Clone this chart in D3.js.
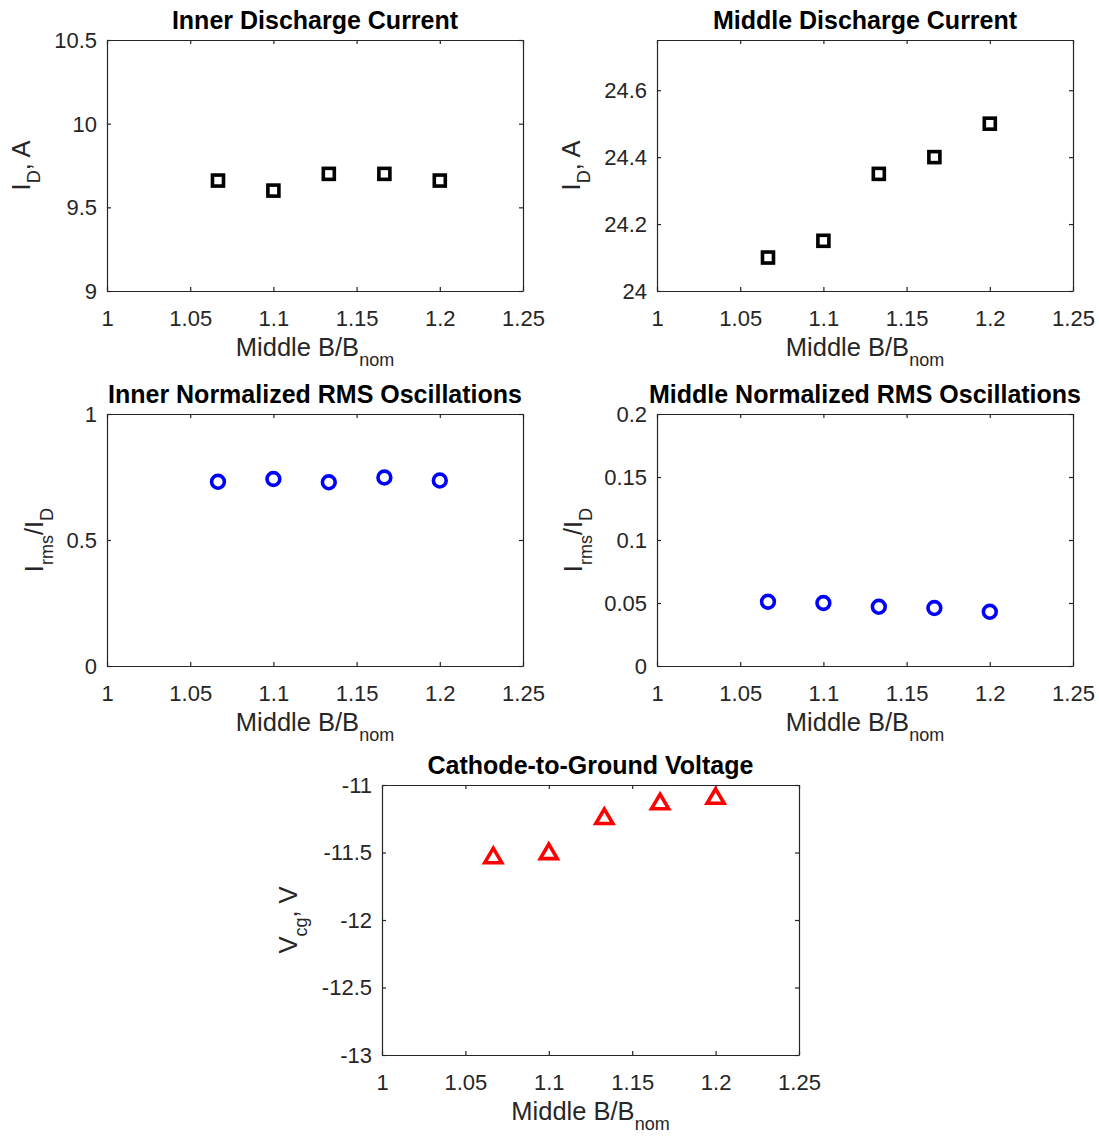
<!DOCTYPE html>
<html>
<head>
<meta charset="utf-8">
<script src="https://cdn.jsdelivr.net/npm/d3@7"></script>
<style>
  html, body { margin: 0; padding: 0; background: #fff; }
  svg { display: block; }
  text { font-family: "Liberation Sans", Arial, Helvetica, sans-serif; }
</style>
</head>
<body>
<script>
// ---------------- DATA ----------------
const bRatio     = [1.0667, 1.1, 1.1333, 1.1667, 1.2];
const innerID    = [9.66, 9.60, 9.70, 9.70, 9.66];
const middleID   = [24.10, 24.15, 24.35, 24.40, 24.50];
const innerRMS   = [0.731, 0.742, 0.729, 0.748, 0.736];
const middleRMS  = [0.051, 0.050, 0.047, 0.046, 0.043];
const vcg        = [-11.52, -11.49, -11.23, -11.12, -11.08];

const xTicks          = [1, 1.05, 1.1, 1.15, 1.2, 1.25];
const innerIDTicks    = [9, 9.5, 10, 10.5];
const middleIDTicks   = [24, 24.2, 24.4, 24.6];
const innerRMSTicks   = [0, 0.5, 1];
const middleRMSTicks  = [0, 0.05, 0.1, 0.15, 0.2];
const vcgTicks        = [-13, -12.5, -12, -11.5, -11];

const titles = [
  "Inner Discharge Current",
  "Middle Discharge Current",
  "Inner Normalized RMS Oscillations",
  "Middle Normalized RMS Oscillations",
  "Cathode-to-Ground Voltage"
];

// ---------------- LAYOUT ----------------
const W = 1099, H = 1136;
const AX = "#262626";
const svg = d3.select("body").append("svg").attr("width", W).attr("height", H);

const panels = [
  { box: [107, 523, 40, 291],  y: innerID,   yDom: [9, 10.5],    yTicks: innerIDTicks,   marker: "square",   color: "#000000", ylab: [["I",0],["D",1],[", A",0]],          ylx: 30, title: titles[0] },
  { box: [657, 1073, 40, 291], y: middleID,  yDom: [24, 24.75],  yTicks: middleIDTicks,  marker: "square",   color: "#000000", ylab: [["I",0],["D",1],[", A",0]],          ylx: 580, title: titles[1] },
  { box: [107, 523, 414, 666], y: innerRMS,  yDom: [0, 1],       yTicks: innerRMSTicks,  marker: "circle",   color: "#0000ff", ylab: [["I",0],["rms",1],["/I",0],["D",1]], ylx: 43, title: titles[2] },
  { box: [657, 1073, 414, 666],y: middleRMS, yDom: [0, 0.2],     yTicks: middleRMSTicks, marker: "circle",   color: "#0000ff", ylab: [["I",0],["rms",1],["/I",0],["D",1]], ylx: 582, title: titles[3] },
  { box: [382, 799, 785, 1055],y: vcg,       yDom: [-13, -11],   yTicks: vcgTicks,       marker: "triangle", color: "#ff0000", ylab: [["V",0],["cg",1],[", V",0]],         ylx: 297, title: titles[4] }
];

const TICK_FS = 22, LAB_FS = 25.5, SUB_FS = 18, TITLE_FS = 25, SUB_SHIFT = 10;

function addSubText(sel, parts) {
  let state = 0;
  parts.forEach(([s, sub]) => {
    const t = sel.append("tspan").text(s);
    const shift = (sub ? SUB_SHIFT : 0) - (state ? SUB_SHIFT : 0);
    if (shift !== 0) t.attr("dy", shift);
    t.attr("font-size", sub ? SUB_FS : LAB_FS);
    state = sub;
  });
}

panels.forEach(p => {
  const [x0, x1, y0, y1] = p.box;
  const x = d3.scaleLinear().domain([1, 1.25]).range([x0, x1]);
  const y = d3.scaleLinear().domain(p.yDom).range([y1, y0]);
  const g = svg.append("g");
  const fmt = v => String(v);

  // bottom axis
  const gb = g.append("g").attr("transform", `translate(0,${y1})`)
    .call(d3.axisBottom(x).tickValues(xTicks).tickFormat(fmt).tickSizeInner(-4).tickSizeOuter(0).tickPadding(0));
  gb.selectAll("text").attr("y", 35).attr("dy", null).attr("font-size", TICK_FS).attr("fill", AX);
  // top axis
  g.append("g").attr("transform", `translate(0,${y0})`)
    .call(d3.axisTop(x).tickValues(xTicks).tickFormat("").tickSizeInner(-4).tickSizeOuter(0));
  // left axis
  const gl = g.append("g").attr("transform", `translate(${x0},0)`)
    .call(d3.axisLeft(y).tickValues(p.yTicks).tickFormat(fmt).tickSizeInner(-4).tickSizeOuter(0).tickPadding(0));
  gl.selectAll("text").attr("x", -10).attr("dy", "0.34em").attr("font-size", TICK_FS).attr("fill", AX);
  // right axis
  g.append("g").attr("transform", `translate(${x1},0)`)
    .call(d3.axisRight(y).tickValues(p.yTicks).tickFormat("").tickSizeInner(-4).tickSizeOuter(0));

  g.selectAll(".domain").attr("stroke", AX).attr("stroke-width", 1.2);
  g.selectAll(".tick line").attr("stroke", AX).attr("stroke-width", 1.2);
  g.selectAll(".tick text").style("font-family", '"Liberation Sans", Arial, sans-serif');

  // title
  g.append("text").attr("x", (x0 + x1) / 2).attr("y", y0 - 11)
    .attr("text-anchor", "middle").attr("font-size", TITLE_FS).attr("font-weight", "bold")
    .attr("fill", "#000").text(p.title);

  // x label
  const xl = g.append("text").attr("x", (x0 + x1) / 2).attr("y", y1 + 65)
    .attr("text-anchor", "middle").attr("fill", AX).attr("font-size", LAB_FS);
  addSubText(xl, [["Middle B/B", 0], ["nom", 1]]);

  // y label
  const yl = g.append("text")
    .attr("transform", `translate(${p.ylx},${(y0 + y1) / 2}) rotate(-90)`)
    .attr("text-anchor", "middle").attr("fill", AX).attr("font-size", LAB_FS);
  addSubText(yl, p.ylab);

  // markers
  const pts = bRatio.map((b, i) => [x(b), y(p.y[i])]);
  if (p.marker === "square") {
    g.selectAll("rect.m").data(pts).join("rect").attr("class", "m")
      .attr("x", d => d[0] - 5.5).attr("y", d => d[1] - 5.5)
      .attr("width", 11).attr("height", 11)
      .attr("fill", "none").attr("stroke", p.color).attr("stroke-width", 3.6);
  } else if (p.marker === "circle") {
    g.selectAll("circle.m").data(pts).join("circle").attr("class", "m")
      .attr("cx", d => d[0]).attr("cy", d => d[1]).attr("r", 6.4)
      .attr("fill", "none").attr("stroke", p.color).attr("stroke-width", 3.6);
  } else {
    g.selectAll("path.m").data(pts).join("path").attr("class", "m")
      .attr("d", d => `M${d[0]},${d[1] - 7} L${d[0] + 8.5},${d[1] + 7.5} L${d[0] - 8.5},${d[1] + 7.5} Z`)
      .attr("fill", "none").attr("stroke", p.color).attr("stroke-width", 3.6)
      .attr("stroke-linejoin", "miter");
  }
});
</script>
</body>
</html>
